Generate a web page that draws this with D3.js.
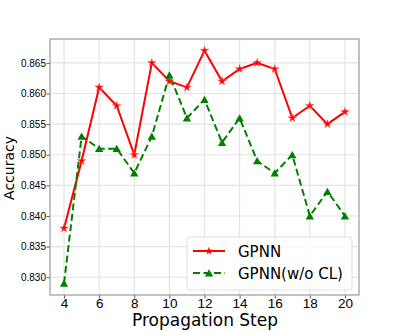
<!DOCTYPE html>
<html><head><meta charset="utf-8">
<script src="https://cdn.jsdelivr.net/npm/d3@7"></script>
<style>body{margin:0;background:#fff}svg{font-family:"DejaVu Sans",sans-serif}</style>
</head><body>
<svg id="c" width="399" height="332"></svg>
<script>
const steps = [4,5,6,7,8,9,10,11,12,13,14,15,16,17,18,19,20];
const gpnn = [0.838,0.849,0.861,0.858,0.850,0.865,0.862,0.861,0.867,0.862,0.864,0.865,0.864,0.856,0.858,0.855,0.857];
const gpnnNoCL = [0.829,0.853,0.851,0.851,0.847,0.853,0.863,0.856,0.859,0.852,0.856,0.849,0.847,0.850,0.840,0.844,0.840];
const xTicks = [4,6,8,10,12,14,16,18,20];
const yTicks = [0.830,0.835,0.840,0.845,0.850,0.855,0.860,0.865];
const seriesNames = ["GPNN","GPNN(w/o CL)"];

const svg = d3.select("#c");
const L=50,T=39,R=359,B=295;
const x = d3.scaleLinear().domain([3.2,20.8]).range([L,R]);
const y = d3.scaleLinear().domain([0.8271,0.8689]).range([B,T]);

// grid
svg.append("g").selectAll("line").data(xTicks).join("line")
  .attr("x1",d=>x(d)).attr("x2",d=>x(d)).attr("y1",T).attr("y2",B)
  .attr("stroke","#e3e3e3").attr("stroke-width",1.2);
svg.append("g").selectAll("line").data(yTicks).join("line")
  .attr("x1",L).attr("x2",R).attr("y1",d=>y(d)).attr("y2",d=>y(d))
  .attr("stroke","#e3e3e3").attr("stroke-width",1.2);

// axes
const xa = svg.append("g").attr("transform",`translate(0,${B})`)
  .call(d3.axisBottom(x).tickValues(xTicks).tickSize(3.5).tickPadding(0).tickFormat(d3.format("d")));
xa.selectAll("text").attr("font-size",13.5).attr("fill","#000");
const ya = svg.append("g").attr("transform",`translate(${L},0)`)
  .call(d3.axisLeft(y).tickValues(yTicks).tickSize(3.5).tickPadding(0.5).tickFormat(d3.format(".3f")));
ya.selectAll("text").attr("font-size",10).attr("fill","#000");
svg.selectAll(".domain").remove();
svg.selectAll(".tick line").attr("stroke","#333").attr("stroke-width",0.8);

svg.append("rect").attr("x",L).attr("y",T).attr("width",R-L).attr("height",B-T)
  .attr("fill","none").attr("stroke","#999").attr("stroke-width",1.2);

// lines
const line = d3.line().x((d,i)=>x(steps[i])).y(d=>y(d));
svg.append("path").datum(gpnn).attr("d",line).attr("fill","none").attr("stroke","#ff0000").attr("stroke-width",2);
svg.append("path").datum(gpnnNoCL).attr("d",line).attr("fill","none").attr("stroke","#008000").attr("stroke-width",2).attr("stroke-dasharray","7,3.5");

const star = d3.symbol().type(d3.symbolStar).size(22);
const tri = d3.symbol().type(d3.symbolTriangle).size(30);
svg.append("g").selectAll("path").data(gpnn).join("path")
  .attr("d",star).attr("transform",(d,i)=>`translate(${x(steps[i])},${y(d)})`)
  .attr("fill","#ff0000").attr("stroke","#ff6060").attr("stroke-width",0.5);
svg.append("g").selectAll("path").data(gpnnNoCL).join("path")
  .attr("d",tri).attr("transform",(d,i)=>`translate(${x(steps[i])},${y(d)+1})`)
  .attr("fill","#008000");

// labels
svg.append("text").attr("x",205).attr("y",326).attr("text-anchor","middle")
  .attr("font-size",17).text("Propagation Step");
svg.append("text").attr("transform",`translate(14,168) rotate(-90)`).attr("text-anchor","middle")
  .attr("font-size",14).text("Accuracy");

// legend
const lg = svg.append("g");
lg.append("rect").attr("x",187).attr("y",237).attr("width",165).attr("height",53).attr("rx",3)
  .attr("fill","#fff").attr("fill-opacity",0.8).attr("stroke","#ddd");
[0,1].forEach(i=>{
  const yy = 251+i*22;
  lg.append("line").attr("x1",193).attr("x2",225).attr("y1",yy).attr("y2",yy)
    .attr("stroke",i?"#008000":"#ff0000").attr("stroke-width",2).attr("stroke-dasharray",i?"7,3.5":null);
  lg.append("path").attr("d",i?tri:star).attr("transform",`translate(209,${yy+(i?1:0)})`)
    .attr("fill",i?"#008000":"#ff0000");
  lg.append("text").attr("x",238).attr("y",yy+5.5).attr("font-size",15).text(seriesNames[i]);
});
</script>
</body></html>
